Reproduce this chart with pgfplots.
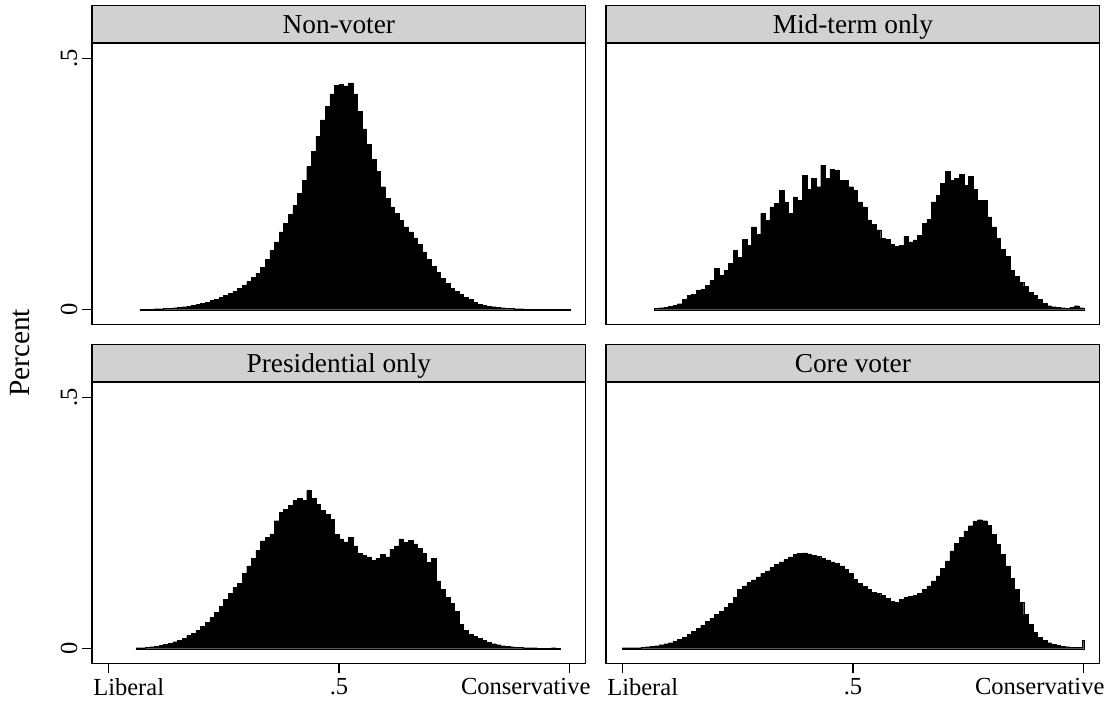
\documentclass[border=0pt]{standalone}
\usepackage{fontspec}
\setmainfont{Liberation Serif}
\usepackage{pgfplots}
\pgfplotsset{compat=1.18}
\definecolor{stripgray}{gray}{0.82}
\pgfplotsset{
 panel/.style={
   scale only axis, width=370.3pt, height=211pt,
   xmin=-0.0353, xmax=1.0347, ymin=-0.0291, ymax=0.5313,
   axis line style={line width=1.1pt, black},
   tick align=outside, major tick length=7.5pt,
   every tick/.style={black, line width=1.1pt},
   xtick=\empty, ytick=\empty,
   tick label style={font=\fontsize{18.4}{22}\selectfont},
   every axis title shift=0pt,
   title style={at={(0.5,1)}, anchor=south, fill=stripgray, draw=black, line width=1.1pt, minimum width=370.3pt, minimum height=27.4pt, inner sep=0pt, text height=13.6pt, text depth=0pt, font=\fontsize{20.5}{24}\selectfont},
 },
 lefty/.style={ytick={0,0.5}, yticklabels={0,.5}, ytick pos=left, yticklabel style={rotate=90, anchor=south}},
 botx/.style={xtick={0,0.5,1}, xticklabels={\hspace*{30.6pt}Liberal,.5,Conservative\hspace*{66pt}}, xtick pos=bottom},
 hist/.style={fill=black, draw=black, line width=0.3pt, const plot},
}
\begin{document}
\begin{tikzpicture}
\useasboundingbox (0,0) rectangle (832.5pt,-530.25pt);
% Non-voter
\begin{axis}[panel, lefty, title={Non-voter}, at={(69pt,-32.25pt)}, anchor=north west]
\addplot[hist] coordinates {(0.07,0.001)(0.08,0.001)(0.09,0.001)(0.10,0.002)(0.11,0.002)(0.12,0.003)(0.13,0.003)(0.14,0.004)(0.15,0.005)(0.16,0.006)(0.17,0.007)(0.18,0.009)(0.19,0.011)(0.20,0.013)(0.21,0.015)(0.22,0.018)(0.23,0.021)(0.24,0.024)(0.25,0.028)(0.26,0.032)(0.27,0.037)(0.28,0.043)(0.29,0.049)(0.30,0.056)(0.31,0.064)(0.32,0.073)(0.33,0.085)(0.34,0.100)(0.35,0.118)(0.36,0.135)(0.37,0.155)(0.38,0.172)(0.39,0.190)(0.40,0.208)(0.41,0.232)(0.42,0.258)(0.43,0.285)(0.44,0.315)(0.45,0.345)(0.46,0.378)(0.47,0.405)(0.48,0.430)(0.49,0.447)(0.50,0.449)(0.51,0.446)(0.52,0.452)(0.53,0.430)(0.54,0.395)(0.55,0.360)(0.56,0.330)(0.57,0.300)(0.58,0.275)(0.59,0.245)(0.60,0.222)(0.61,0.205)(0.62,0.192)(0.63,0.178)(0.64,0.165)(0.65,0.155)(0.66,0.143)(0.67,0.130)(0.68,0.115)(0.69,0.101)(0.70,0.087)(0.71,0.074)(0.72,0.062)(0.73,0.052)(0.74,0.043)(0.75,0.036)(0.76,0.030)(0.77,0.025)(0.78,0.020)(0.79,0.015)(0.80,0.011)(0.81,0.009)(0.82,0.007)(0.83,0.006)(0.84,0.005)(0.85,0.004)(0.86,0.003)(0.87,0.003)(0.88,0.002)(0.89,0.002)(0.90,0.001)(0.91,0.001)(0.92,0.001)(0.93,0.001)(0.94,0.001)(0.95,0.001)(0.96,0.001)(0.97,0.001)(0.98,0.001)(0.99,0.001)(1.00,0.001)} \closedcycle;
\end{axis}
% Mid-term only
\begin{axis}[panel, title={Mid-term only}, at={(454.5pt,-32.25pt)}, anchor=north west]
\addplot[hist] coordinates {(0.07,0.003)(0.08,0.004)(0.09,0.005)(0.10,0.007)(0.11,0.009)(0.12,0.012)(0.13,0.020)(0.14,0.028)(0.15,0.031)(0.16,0.038)(0.17,0.040)(0.18,0.048)(0.19,0.058)(0.20,0.082)(0.21,0.068)(0.22,0.078)(0.23,0.092)(0.24,0.118)(0.25,0.105)(0.26,0.140)(0.27,0.128)(0.28,0.165)(0.29,0.150)(0.30,0.192)(0.31,0.178)(0.32,0.205)(0.33,0.212)(0.34,0.238)(0.35,0.215)(0.36,0.192)(0.37,0.225)(0.38,0.218)(0.39,0.268)(0.40,0.240)(0.41,0.262)(0.42,0.245)(0.43,0.288)(0.44,0.262)(0.45,0.280)(0.46,0.278)(0.47,0.258)(0.48,0.258)(0.49,0.245)(0.50,0.238)(0.51,0.215)(0.52,0.205)(0.53,0.179)(0.54,0.170)(0.55,0.159)(0.56,0.142)(0.57,0.140)(0.58,0.130)(0.59,0.126)(0.60,0.128)(0.61,0.146)(0.62,0.135)(0.63,0.139)(0.64,0.148)(0.65,0.172)(0.66,0.180)(0.67,0.215)(0.68,0.228)(0.69,0.252)(0.70,0.275)(0.71,0.258)(0.72,0.262)(0.73,0.270)(0.74,0.248)(0.75,0.265)(0.76,0.240)(0.77,0.218)(0.78,0.218)(0.79,0.185)(0.80,0.165)(0.81,0.142)(0.82,0.120)(0.83,0.106)(0.84,0.079)(0.85,0.066)(0.86,0.055)(0.87,0.046)(0.88,0.035)(0.89,0.029)(0.90,0.020)(0.91,0.013)(0.92,0.008)(0.93,0.006)(0.94,0.005)(0.95,0.004)(0.96,0.003)(0.97,0.005)(0.98,0.008)(0.99,0.004)(1.00,0.004)} \closedcycle;
\end{axis}
% Presidential only
\begin{axis}[panel, lefty, botx, title={Presidential only}, at={(69pt,-286.5pt)}, anchor=north west]
\addplot[hist] coordinates {(0.06,0.002)(0.07,0.002)(0.08,0.003)(0.09,0.004)(0.10,0.005)(0.11,0.007)(0.12,0.009)(0.13,0.011)(0.14,0.014)(0.15,0.017)(0.16,0.021)(0.17,0.026)(0.18,0.031)(0.19,0.037)(0.20,0.045)(0.21,0.053)(0.22,0.062)(0.23,0.072)(0.24,0.085)(0.25,0.098)(0.26,0.110)(0.27,0.122)(0.28,0.130)(0.29,0.150)(0.30,0.165)(0.31,0.180)(0.32,0.196)(0.33,0.215)(0.34,0.222)(0.35,0.229)(0.36,0.255)(0.37,0.272)(0.38,0.278)(0.39,0.285)(0.40,0.295)(0.41,0.299)(0.42,0.296)(0.43,0.315)(0.44,0.300)(0.45,0.288)(0.46,0.275)(0.47,0.268)(0.48,0.258)(0.49,0.228)(0.50,0.219)(0.51,0.213)(0.52,0.222)(0.53,0.205)(0.54,0.190)(0.55,0.186)(0.56,0.183)(0.57,0.176)(0.58,0.180)(0.59,0.188)(0.60,0.183)(0.61,0.198)(0.62,0.205)(0.63,0.219)(0.64,0.212)(0.65,0.216)(0.66,0.209)(0.67,0.200)(0.68,0.190)(0.69,0.172)(0.70,0.180)(0.71,0.135)(0.72,0.118)(0.73,0.103)(0.74,0.090)(0.75,0.075)(0.76,0.048)(0.77,0.036)(0.78,0.029)(0.79,0.024)(0.80,0.020)(0.81,0.016)(0.82,0.013)(0.83,0.010)(0.84,0.008)(0.85,0.006)(0.86,0.005)(0.87,0.004)(0.88,0.003)(0.89,0.003)(0.90,0.002)(0.91,0.002)(0.92,0.002)(0.93,0.001)(0.94,0.001)(0.95,0.001)(0.96,0.002)(0.97,0.001)(0.98,0.001)} \closedcycle;
\end{axis}
% Core voter
\begin{axis}[panel, botx, title={Core voter}, at={(454.5pt,-286.5pt)}, anchor=north west]
\addplot[hist] coordinates {(0.00,0.002)(0.01,0.002)(0.02,0.002)(0.03,0.002)(0.04,0.003)(0.05,0.004)(0.06,0.005)(0.07,0.006)(0.08,0.008)(0.09,0.010)(0.10,0.012)(0.11,0.015)(0.12,0.019)(0.13,0.023)(0.14,0.028)(0.15,0.034)(0.16,0.040)(0.17,0.047)(0.18,0.054)(0.19,0.061)(0.20,0.068)(0.21,0.075)(0.22,0.082)(0.23,0.090)(0.24,0.102)(0.25,0.118)(0.26,0.125)(0.27,0.132)(0.28,0.137)(0.29,0.143)(0.30,0.150)(0.31,0.155)(0.32,0.162)(0.33,0.168)(0.34,0.173)(0.35,0.178)(0.36,0.183)(0.37,0.188)(0.38,0.190)(0.39,0.191)(0.40,0.189)(0.41,0.186)(0.42,0.184)(0.43,0.180)(0.44,0.177)(0.45,0.173)(0.46,0.170)(0.47,0.165)(0.48,0.158)(0.49,0.150)(0.50,0.138)(0.51,0.130)(0.52,0.124)(0.53,0.118)(0.54,0.113)(0.55,0.110)(0.56,0.106)(0.57,0.100)(0.58,0.095)(0.59,0.093)(0.60,0.099)(0.61,0.103)(0.62,0.104)(0.63,0.106)(0.64,0.111)(0.65,0.118)(0.66,0.125)(0.67,0.135)(0.68,0.145)(0.69,0.160)(0.70,0.175)(0.71,0.195)(0.72,0.210)(0.73,0.222)(0.74,0.235)(0.75,0.245)(0.76,0.254)(0.77,0.257)(0.78,0.255)(0.79,0.246)(0.80,0.228)(0.81,0.208)(0.82,0.188)(0.83,0.165)(0.84,0.140)(0.85,0.118)(0.86,0.092)(0.87,0.068)(0.88,0.048)(0.89,0.032)(0.90,0.022)(0.91,0.016)(0.92,0.012)(0.93,0.009)(0.94,0.007)(0.95,0.005)(0.96,0.004)(0.97,0.003)(0.98,0.003)(0.99,0.003)(0.997,0.017)(1.00,0.017)} \closedcycle;
\end{axis}
\node[rotate=90, font=\fontsize{22}{26}\selectfont] at (15pt,-264.75pt) {Percent};
\end{tikzpicture}
\end{document}
